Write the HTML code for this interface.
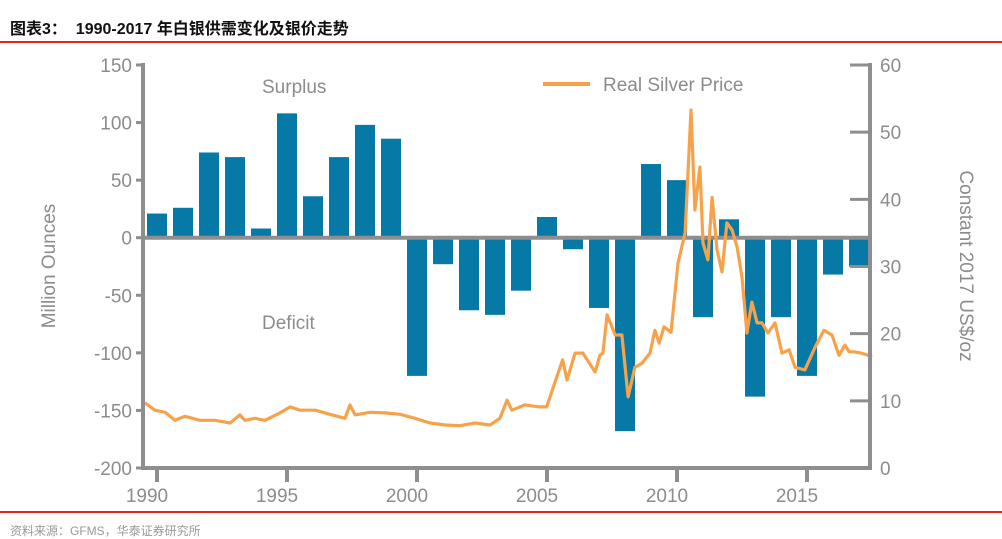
<!DOCTYPE html>
<html><head><meta charset="utf-8">
<style>
body{margin:0;background:#fff;width:1002px;height:528px;overflow:hidden;position:relative;font-family:"Liberation Sans","Noto Sans CJK SC",sans-serif;}
#title{position:absolute;left:10px;top:15px;font-size:16px;font-weight:bold;color:#111;}
.rule{position:absolute;left:0;width:1002px;height:2px;background:#e3251b;}
#foot{position:absolute;left:10px;top:522px;font-size:12px;color:#999;}
svg{position:absolute;left:0;top:0;}
svg text{font-family:"Liberation Sans",sans-serif;fill:#8c8c8c;}
</style></head>
<body>
<div id="title">图表3：&nbsp;&nbsp;1990-2017 年白银供需变化及银价走势</div>
<div class="rule" style="top:41px"></div>
<div class="rule" style="top:511px"></div>
<div id="foot">资料来源：GFMS，华泰证券研究所</div>
<svg id="chart" width="1002" height="528"></svg>
<script>
const years=[1990,1991,1992,1993,1994,1995,1996,1997,1998,1999,2000,2001,2002,2003,2004,2005,2006,2007,2008,2009,2010,2011,2012,2013,2014,2015,2016,2017];
const balance=[21,26,74,70,8,108,36,70,98,86,-120,-23,-63,-67,-46,18,-10,-61,-168,64,50,-69,16,-138,-69,-120,-32,-25];
const priceT=[1989.54,1989.92,1990.31,1990.69,1991.08,1991.65,1992.23,1992.81,1993.19,1993.38,1993.77,1994.15,1994.73,1995.12,1995.5,1996.08,1996.65,1997.23,1997.42,1997.62,1998.19,1998.77,1999.35,1999.92,2000.5,2001.08,2001.65,2002.23,2002.81,2003.19,2003.46,2003.65,2004.15,2004.73,2004.99,2005.3,2005.6,2005.77,2006.08,2006.38,2006.85,2007.04,2007.15,2007.31,2007.62,2007.88,2008.12,2008.38,2008.65,2008.96,2009.15,2009.31,2009.5,2009.77,2010.04,2010.31,2010.54,2010.69,2010.88,2011.0,2011.19,2011.35,2011.54,2011.73,2011.92,2012.12,2012.31,2012.5,2012.69,2012.88,2013.08,2013.27,2013.5,2013.77,2014.04,2014.31,2014.54,2014.92,2015.31,2015.65,2015.96,2016.23,2016.46,2016.62,2016.81,2017.08,2017.35,2017.5];
const priceV=[9.7,8.6,8.3,7.1,7.7,7.1,7.1,6.7,7.9,7.1,7.4,7.1,8.2,9.1,8.6,8.6,8.0,7.4,9.4,7.9,8.3,8.2,8.0,7.4,6.7,6.4,6.3,6.7,6.4,7.4,10.1,8.6,9.4,9.1,9.1,12.7,16.1,13.1,17.1,17.1,14.3,16.8,17.1,22.8,19.8,19.8,10.6,15.0,15.6,17.1,20.5,18.6,21.0,20.2,30.5,35.0,53.3,38.4,44.8,33.5,31.0,40.3,32.5,29.2,36.5,35.4,32.9,28.4,20.1,24.7,21.6,21.6,20.1,21.6,17.1,17.6,15.0,14.6,18.0,20.5,19.8,16.8,18.3,17.3,17.3,17.1,16.8,16.5];
const leftTicks=[150,100,50,0,-50,-100,-150,-200];
const rightTicks=[60,50,40,30,20,10,0];
const xTicks=[1990,1995,2000,2005,2010,2015];

const NS="http://www.w3.org/2000/svg";
const svg=document.getElementById('chart');
const X=t=>157+26*(t-1990);
const YL=v=>65+(150-v)*(403/350);
const YR=v=>468-v*(403/60);
function mk(tag,attrs,parent){const e=document.createElementNS(NS,tag);for(const k in attrs)e.setAttribute(k,attrs[k]);(parent||svg).appendChild(e);return e;}
const GRAY="#8e8e90";

balance.forEach((v,i)=>{
  const y0=YL(0),y1=YL(v);
  const r=mk('rect',{x:X(years[i])-10,y:Math.min(y0,y1),width:20,height:Math.abs(y1-y0),fill:'#0779a6'});
  
  
});
const z=mk('line',{x1:143,x2:870,y1:YL(0),y2:YL(0),stroke:GRAY,'stroke-width':4});


let d=priceT.map((t,i)=>(i?'L':'M')+X(t).toFixed(1)+','+YR(priceV[i]).toFixed(1)).join('');
const pl=mk('path',{d:d,fill:'none',stroke:'#f7a24b','stroke-width':3.2,'stroke-linejoin':'round'});


const ax=mk('path',{d:'M143,63V468H870V63',fill:'none',stroke:GRAY,'stroke-width':4});


leftTicks.forEach(v=>{
  mk('line',{x1:136,x2:143,y1:YL(v),y2:YL(v),stroke:GRAY,'stroke-width':3});
  const t=mk('text',{x:132,y:YL(v)+7,'text-anchor':'end','font-size':19});
  t.textContent=v;
  
  
});
rightTicks.forEach(v=>{
  mk('line',{x1:850,x2:870,y1:YR(v),y2:YR(v),stroke:GRAY,'stroke-width':3});
  const t=mk('text',{x:880,y:YR(v)+7,'font-size':19});
  t.textContent=v;
  
  
});
xTicks.forEach(v=>{
  mk('line',{x1:X(v),x2:X(v),y1:468,y2:482,stroke:GRAY,'stroke-width':4});
  const t=mk('text',{x:X(v)-10,y:502,'text-anchor':'middle','font-size':19});
  t.textContent=v;
  
  
});
function label(txt,attrs,name){const t=mk('text',attrs);t.textContent=txt;}
label('Surplus',{x:262,y:93,'font-size':19},'surplus-label');
label('Deficit',{x:262,y:329,'font-size':19},'deficit-label');
label('Million Ounces',{transform:'translate(55,266) rotate(-90)','text-anchor':'middle','font-size':19},'y-axis-title-left');
label('Constant 2017 US$/oz',{transform:'translate(960,266) rotate(90)','text-anchor':'middle','font-size':19},'y-axis-title-right');
const lg=mk('line',{x1:543,x2:590,y1:84,y2:84,stroke:'#f7a24b','stroke-width':4});


label('Real Silver Price',{x:603,y:91,'font-size':19},'legend-label');
</script>
</body></html>
